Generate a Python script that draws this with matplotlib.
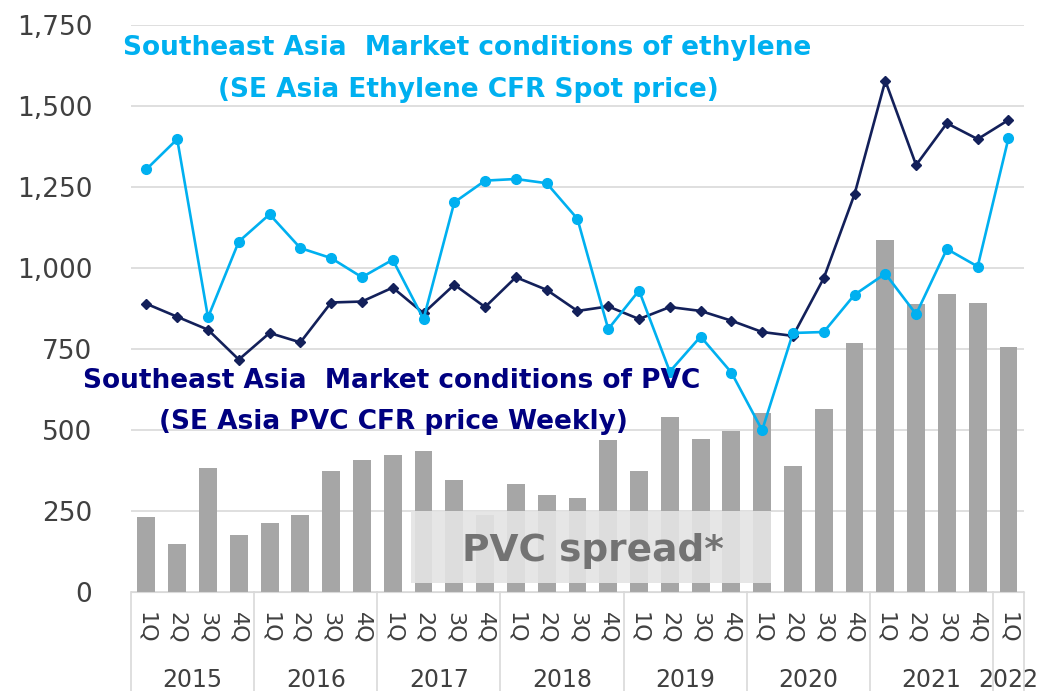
import matplotlib.pyplot as plt
import matplotlib.transforms as mtransforms
from matplotlib.patches import Rectangle
import numpy as np

# Dados (2015 1Q ... 2022 1Q)
trimestres = ['1Q', '2Q', '3Q', '4Q'] * 7 + ['1Q']
anos = ['2015', '2016', '2017', '2018', '2019', '2020', '2021', '2022']
trimestres_por_ano = [4, 4, 4, 4, 4, 4, 4, 1]

spread_pvc = [232, 149, 382, 176, 214, 237, 375, 409, 424, 435, 347, 239,
              334, 301, 290, 471, 375, 541, 473, 498, 553, 389, 564, 768,
              1086, 890, 920, 893, 757]
preco_pvc = [890, 850, 810, 718, 800, 771, 894, 897, 940, 861, 949, 880,
             972, 933, 868, 882, 843, 880, 868, 838, 803, 791, 969, 1228,
             1578, 1318, 1447, 1398, 1457]
preco_etileno = [1305, 1398, 848, 1082, 1166, 1062, 1031, 972, 1026, 843,
                 1203, 1270, 1275, 1262, 1152, 812, 931, 681, 789, 678, 500,
                 800, 803, 918, 983, 858, 1059, 1005, 1401]

ciano = '#00b0f0'
marinho = '#13205a'
cinza_barra = '#a6a6a6'
cinza_grade = '#d9d9d9'
cor_texto = '#404040'

fig = plt.figure(figsize=(10.61, 6.91), dpi=100)
ax = fig.add_axes([0.1235, 0.1428, 0.8415, 0.821])

x = np.arange(len(trimestres))

# Barras do spread
ax.bar(x, spread_pvc, width=0.58, color=cinza_barra, zorder=2)

# Linhas de preço
ax.plot(x, preco_pvc, color=marinho, lw=1.9, marker='D', markersize=5, zorder=5)
ax.plot(x, preco_etileno, color=ciano, lw=1.9, marker='o', markersize=7, zorder=5)

# Caixa "PVC spread*"
ax.add_patch(Rectangle((8.6, 30), 11.7, 220, facecolor='#e4e4e4', alpha=0.9,
                       edgecolor='none', zorder=3))
ax.text(14.5, 128, 'PVC spread*', ha='center', va='center', fontsize=27,
        fontweight='bold', color='#737373', zorder=4)

# Eixos
ax.set_xlim(-0.5, len(x) - 0.5)
ax.set_ylim(0, 1750)
ax.set_yticks(np.arange(0, 1751, 250))
ax.set_yticklabels([f'{v:,}' for v in range(0, 1751, 250)])
ax.yaxis.grid(True, color=cinza_grade, lw=1.2, zorder=0)
ax.set_axisbelow(True)
for lado in ['top', 'right', 'left']:
    ax.spines[lado].set_visible(False)
ax.spines['bottom'].set_color(cinza_grade)
ax.tick_params(axis='y', length=0, labelsize=19, labelcolor=cor_texto, pad=28)
ax.set_xticks(x)
ax.set_xticklabels(trimestres, rotation=-90, fontsize=16, color=cor_texto)
ax.tick_params(axis='x', length=0, pad=14)

# Rótulos dos anos e separadores
trans_sep = mtransforms.blended_transform_factory(ax.transData, ax.transAxes)
trans_ano = mtransforms.blended_transform_factory(ax.transData, fig.transFigure)
inicio = -0.5
ax.plot([inicio, inicio], [0, -0.18], color=cinza_grade, lw=1.2,
        transform=trans_sep, clip_on=False)
for ano, n in zip(anos, trimestres_por_ano):
    fim = inicio + n
    ax.plot([fim, fim], [0, -0.18], color=cinza_grade, lw=1.2,
            transform=trans_sep, clip_on=False)
    ax.text((inicio + fim) / 2, 0.016, ano, ha='center', va='center',
            fontsize=17, color=cor_texto, transform=trans_ano)
    inicio = fim

# Títulos das séries
fig.text(467 / 1061, 1 - 48 / 691, 'Southeast Asia  Market conditions of ethylene',
         ha='center', va='center', fontsize=19, fontweight='bold', color=ciano)
fig.text(468 / 1061, 1 - 90 / 691, '(SE Asia Ethylene CFR Spot price)',
         ha='center', va='center', fontsize=19, fontweight='bold', color=ciano)
fig.text(392 / 1061, 1 - 381 / 691, 'Southeast Asia  Market conditions of PVC',
         ha='center', va='center', fontsize=19, fontweight='bold', color='#000080')
fig.text(393 / 1061, 1 - 422 / 691, '(SE Asia PVC CFR price Weekly)',
         ha='center', va='center', fontsize=19, fontweight='bold', color='#000080')

fig.savefig('out.png', dpi=100)
